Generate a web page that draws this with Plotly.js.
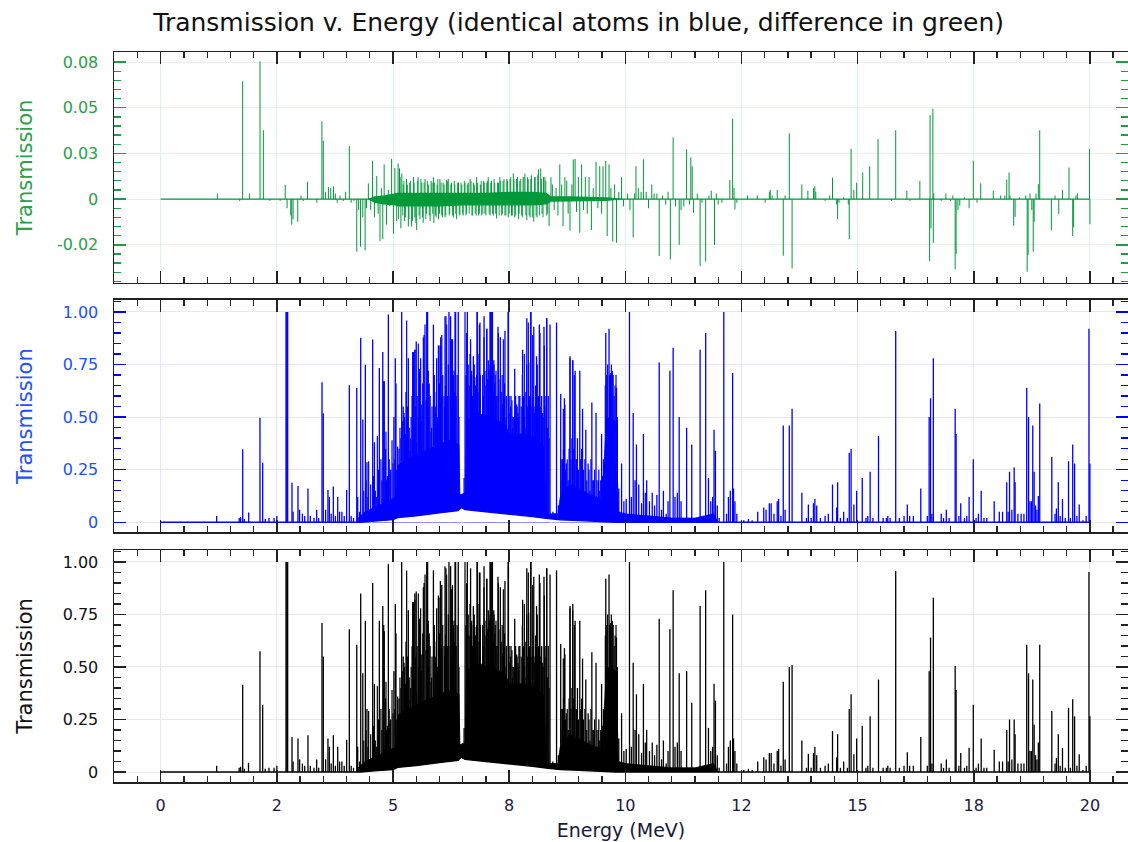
<!DOCTYPE html>
<html><head><meta charset="utf-8">
<script src="https://cdn.plot.ly/plotly-3.0.1.min.js"></script>
<style>html,body{margin:0;padding:0;background:#fff}#chart{width:1128px;height:842px}</style>
</head><body><div id="chart"></div><script>
// ---- tick definitions ----
const xTickVals = [0, 2.5, 5, 7.5, 10, 12.5, 15, 17.5, 20];
const xTickText = ['0', '2', '5', '8', '10', '12', '15', '18', '20'];
const diffTickVals = [-0.025, 0, 0.025, 0.05, 0.075];
const diffTickText = ['-0.02', '0', '0.03', '0.05', '0.08'];
const transTickVals = [0, 0.25, 0.5, 0.75, 1];
const transTickText = ['0', '0.25', '0.50', '0.75', '1.00'];

// ---- identical atoms (blue): [energy MeV, transmission] ----
const bluePeaks = [
[1.205,0.03],[1.69,0.02],[1.72,0.025],[1.765,0.347],[1.80,0.015],[1.894,0.046],[2.137,0.497],[2.195,0.283],
[2.25,0.015],[2.33,0.02],[2.44,0.02],[2.50,0.03],[2.697,1.0],[2.715,1.0],[2.733,1.0],[2.826,0.188],[2.85,0.05],
[2.955,0.172],[2.99,0.06],[3.05,0.04],[3.10,0.03],[3.17,0.161],[3.22,0.03],[3.30,0.02],[3.357,0.06],[3.40,0.02],
[3.472,0.666],[3.50,0.518],[3.55,0.06],[3.60,0.153],[3.63,0.12],[3.67,0.04],[3.716,0.17],[3.76,0.03],[3.81,0.12],
[3.85,0.05],[3.90,0.05],[3.95,0.03],[4.003,0.153],[4.06,0.652],[4.10,0.03],[4.15,0.02],[4.22,0.639],[4.24,0.12],
[4.28,0.05],[4.305,0.877],[4.35,0.489],[4.405,0.749],[4.44,0.285],[4.50,0.06],[4.563,0.869],[4.60,0.38],[4.65,0.12],
[4.706,0.734],[4.78,0.81],[4.80,0.67],[4.82,0.11],[4.86,0.2],[4.90,0.988],[4.95,0.25],[5.02,0.5],[5.05,0.78],
[5.13,0.35],[5.187,1.0],[5.22,0.55],[5.28,0.62],[5.33,0.78],[5.37,0.34],[5.44,0.81],[5.47,0.82],[5.50,0.86],
[5.55,0.5],[5.57,0.73],[5.62,0.56],[5.67,0.89],[5.745,1.0],[5.78,0.66],[5.82,0.43],[5.87,0.94],[5.94,0.78],
[5.99,0.84],[6.02,0.84],[6.05,0.89],[6.10,0.6],[6.14,0.98],[6.205,1.0],[6.24,0.98],[6.28,0.87],[6.335,1.0],
[6.405,1.0],[6.45,0.13],[6.53,0.21],[6.60,1.0],[6.67,0.87],[6.73,0.79],[6.76,0.69],[6.81,1.0],[6.86,0.94],
[6.90,0.4],[6.96,0.98],[7.02,0.92],[7.07,0.72],[7.10,1.0],[7.14,1.0],[7.17,0.77],[7.22,0.6],[7.26,0.93],
[7.31,0.88],[7.36,0.56],[7.41,0.91],[7.48,1.0],[7.54,0.6],[7.58,0.5],[7.62,0.73],[7.67,0.55],[7.73,0.6],
[7.79,0.82],[7.84,0.45],[7.88,0.97],[7.92,0.76],[7.97,1.0],[8.03,0.93],[8.09,0.79],[8.15,0.94],[8.20,0.6],
[8.25,0.93],[8.31,0.97],[8.38,0.94],[8.44,0.05],[8.47,0.04],[8.52,0.95],[8.56,0.08],[8.61,0.61],[8.65,0.3],
[8.69,0.59],[8.73,0.28],[8.77,0.2],[8.81,0.79],[8.87,0.77],[8.92,0.72],[8.97,0.4],[9.02,0.72],[9.08,0.54],
[9.15,0.44],[9.20,0.28],[9.24,0.15],[9.28,0.57],[9.32,0.2],[9.37,0.52],[9.42,0.2],[9.45,0.15],[9.49,0.42],
[9.53,0.3],[9.58,0.9],[9.65,0.92],[9.68,0.71],[9.72,0.72],[9.76,0.6],[9.81,0.64],[9.86,0.16],[9.92,0.28],
[9.97,0.1],[10.02,0.11],[10.09,1.0],[10.13,0.12],[10.17,0.52],[10.21,0.2],[10.24,0.37],[10.29,0.18],[10.35,0.09],
[10.39,0.42],[10.43,0.14],[10.46,0.2],[10.52,0.1],[10.58,0.14],[10.63,0.08],[10.68,0.13],[10.73,0.76],[10.78,0.06],
[10.82,0.15],[10.88,0.04],[10.92,0.1],[10.96,0.72],[11.03,0.83],[11.07,0.12],[11.12,0.14],[11.16,0.5],[11.20,0.1],
[11.25,0.01],[11.32,0.45],[11.38,0.02],[11.43,0.37],[11.50,0.01],[11.61,0.82],[11.67,0.02],[11.73,0.9],[11.79,0.21],
[11.84,0.1],[11.88,0.12],[11.91,0.44],[11.94,0.34],[11.98,0.08],[12.02,0.02],[12.12,1.0],[12.18,0.04],[12.22,0.12],
[12.26,0.15],[12.31,0.71],[12.33,0.16],[12.36,0.1],[12.40,0.04],[12.55,0.01],[12.65,0.015],[12.73,0.01],[12.85,0.05],
[12.98,0.07],[13.03,0.06],[13.10,0.09],[13.14,0.09],[13.20,0.04],[13.27,0.1],[13.30,0.11],[13.35,0.03],[13.40,0.46],
[13.44,0.06],[13.53,0.46],[13.59,0.54],[13.80,0.14],[13.90,0.02],[13.94,0.085],[14.00,0.02],[14.05,0.09],[14.08,0.11],
[14.12,0.08],[14.20,0.02],[14.30,0.03],[14.37,0.04],[14.46,0.18],[14.55,0.07],[14.57,0.19],[14.63,0.02],[14.70,0.05],
[14.78,0.02],[14.82,0.33],[14.86,0.35],[14.92,0.085],[14.98,0.15],[15.10,0.21],[15.18,0.02],[15.22,0.03],[15.27,0.24],
[15.33,0.02],[15.45,0.41],[15.55,0.02],[15.62,0.02],[15.65,0.03],[15.70,0.02],[15.82,0.91],[15.90,0.02],[16.00,0.03],
[16.07,0.085],[16.12,0.03],[16.20,0.03],[16.36,0.16],[16.50,0.03],[16.54,0.50],[16.57,0.59],[16.60,0.04],[16.63,0.78],
[16.80,0.04],[16.85,0.02],[16.91,0.06],[16.97,0.02],[17.10,0.54],[17.12,0.42],[17.18,0.03],[17.22,0.09],[17.30,0.02],
[17.35,0.03],[17.40,0.12],[17.49,0.30],[17.55,0.02],[17.60,0.04],[17.66,0.15],[17.72,0.02],[17.78,0.02],[17.94,0.1],
[18.05,0.05],[18.12,0.05],[18.21,0.19],[18.24,0.05],[18.27,0.24],[18.32,0.06],[18.37,0.26],[18.39,0.19],[18.45,0.04],
[18.52,0.04],[18.58,0.04],[18.64,0.64],[18.68,0.50],[18.71,0.1],[18.74,0.1],[18.77,0.46],[18.80,0.24],[18.83,0.08],
[18.86,0.06],[18.89,0.125],[18.92,0.565],[19.18,0.31],[19.25,0.04],[19.28,0.066],[19.32,0.19],[19.36,0.03],[19.41,0.11],
[19.47,0.02],[19.54,0.29],[19.58,0.02],[19.63,0.37],[19.67,0.28],[19.72,0.03],[19.77,0.085],[19.85,0.01],[19.92,0.03],
[19.98,0.92],[20.0,0.28]
];

// ---- total (black): [energy MeV, transmission] ----
const blackPeaks = [
[1.205,0.03],[1.69,0.02],[1.72,0.025],[1.765,0.416],[1.80,0.015],[1.89,0.044],[2.137,0.575],[2.195,0.32],
[2.25,0.015],[2.33,0.02],[2.44,0.02],[2.50,0.03],[2.697,1.0],[2.715,1.0],[2.733,1.0],[2.826,0.167],[2.85,0.05],
[2.955,0.16],[2.99,0.06],[3.05,0.04],[3.10,0.03],[3.17,0.175],[3.22,0.03],[3.30,0.02],[3.357,0.06],[3.40,0.02],
[3.472,0.71],[3.50,0.55],[3.55,0.06],[3.60,0.16],[3.63,0.12],[3.67,0.04],[3.716,0.175],[3.76,0.03],[3.81,0.12],
[3.85,0.05],[3.90,0.05],[3.95,0.03],[4.003,0.154],[4.06,0.68],[4.10,0.03],[4.15,0.02],[4.22,0.606],[4.24,0.12],
[4.28,0.05],[4.305,0.85],[4.35,0.47],[4.405,0.72],[4.44,0.30],[4.50,0.06],[4.563,0.90],[4.60,0.42],[4.65,0.12],
[4.706,0.72],[4.78,0.79],[4.80,0.70],[4.82,0.11],[4.86,0.2],[4.90,0.99],[4.95,0.25],[5.02,0.48],[5.05,0.80],
[5.13,0.35],[5.187,1.0],[5.22,0.55],[5.28,0.62],[5.33,0.77],[5.37,0.34],[5.44,0.81],[5.47,0.85],[5.50,0.86],
[5.55,0.5],[5.57,0.73],[5.62,0.56],[5.67,0.90],[5.745,1.0],[5.78,0.66],[5.82,0.43],[5.87,0.96],[5.94,0.78],
[5.99,0.83],[6.02,0.91],[6.05,0.89],[6.10,0.6],[6.14,0.97],[6.205,1.0],[6.24,0.98],[6.28,0.89],[6.335,1.0],
[6.405,1.0],[6.45,0.13],[6.53,0.21],[6.60,1.0],[6.67,0.97],[6.73,0.79],[6.76,0.69],[6.81,1.0],[6.86,0.95],
[6.90,0.4],[6.96,0.98],[7.02,0.92],[7.07,0.72],[7.10,1.0],[7.14,1.0],[7.17,0.77],[7.22,0.6],[7.26,0.93],
[7.31,0.88],[7.36,0.56],[7.41,0.91],[7.48,1.0],[7.54,0.6],[7.58,0.5],[7.62,0.73],[7.67,0.55],[7.73,0.6],
[7.79,0.82],[7.84,0.45],[7.88,0.97],[7.92,0.76],[7.97,1.0],[8.03,0.93],[8.09,0.79],[8.15,0.94],[8.20,0.6],
[8.25,0.93],[8.31,0.97],[8.38,0.94],[8.44,0.05],[8.47,0.04],[8.52,0.96],[8.56,0.08],[8.61,0.61],[8.65,0.3],
[8.69,0.59],[8.73,0.28],[8.77,0.2],[8.81,0.79],[8.87,0.80],[8.92,0.72],[8.97,0.4],[9.02,0.72],[9.08,0.54],
[9.15,0.44],[9.20,0.28],[9.24,0.15],[9.28,0.57],[9.32,0.2],[9.37,0.52],[9.42,0.2],[9.45,0.15],[9.49,0.42],
[9.53,0.3],[9.58,0.92],[9.65,0.94],[9.68,0.71],[9.72,0.72],[9.76,0.6],[9.81,0.64],[9.86,0.16],[9.92,0.28],
[9.97,0.1],[10.02,0.11],[10.09,1.0],[10.13,0.12],[10.17,0.52],[10.21,0.2],[10.24,0.37],[10.29,0.18],[10.35,0.09],
[10.39,0.42],[10.43,0.14],[10.46,0.2],[10.52,0.1],[10.58,0.14],[10.63,0.08],[10.68,0.13],[10.73,0.73],[10.78,0.06],
[10.82,0.15],[10.88,0.04],[10.92,0.1],[10.96,0.68],[11.03,0.865],[11.07,0.12],[11.12,0.14],[11.16,0.47],[11.20,0.1],
[11.25,0.01],[11.32,0.48],[11.38,0.02],[11.43,0.33],[11.50,0.01],[11.61,0.79],[11.67,0.02],[11.73,0.865],[11.79,0.21],
[11.84,0.1],[11.88,0.12],[11.91,0.42],[11.94,0.34],[11.98,0.08],[12.02,0.02],[12.12,1.0],[12.18,0.04],[12.22,0.12],
[12.26,0.15],[12.31,0.75],[12.33,0.16],[12.36,0.1],[12.40,0.04],[12.55,0.01],[12.65,0.015],[12.73,0.01],[12.85,0.05],
[12.98,0.07],[13.03,0.06],[13.10,0.09],[13.14,0.09],[13.20,0.04],[13.27,0.1],[13.30,0.11],[13.35,0.03],[13.40,0.43],
[13.44,0.06],[13.53,0.50],[13.59,0.51],[13.80,0.15],[13.90,0.02],[13.94,0.087],[14.00,0.02],[14.05,0.09],[14.08,0.12],
[14.12,0.08],[14.20,0.02],[14.30,0.03],[14.37,0.04],[14.46,0.195],[14.55,0.07],[14.57,0.18],[14.63,0.02],[14.70,0.05],
[14.78,0.02],[14.82,0.30],[14.86,0.37],[14.92,0.085],[14.98,0.16],[15.10,0.22],[15.18,0.02],[15.22,0.03],[15.27,0.265],
[15.33,0.02],[15.45,0.44],[15.55,0.02],[15.62,0.02],[15.65,0.03],[15.70,0.02],[15.82,0.957],[15.90,0.02],[16.00,0.03],
[16.07,0.094],[16.12,0.03],[16.20,0.03],[16.36,0.167],[16.50,0.03],[16.54,0.48],[16.57,0.64],[16.60,0.04],[16.63,0.83],
[16.80,0.04],[16.85,0.02],[16.91,0.06],[16.97,0.02],[17.10,0.505],[17.12,0.39],[17.18,0.03],[17.22,0.09],[17.30,0.02],
[17.35,0.03],[17.40,0.115],[17.49,0.32],[17.55,0.02],[17.60,0.04],[17.66,0.16],[17.72,0.02],[17.78,0.02],[17.94,0.106],
[18.05,0.05],[18.12,0.05],[18.21,0.2],[18.24,0.05],[18.27,0.25],[18.32,0.06],[18.37,0.25],[18.39,0.18],[18.45,0.04],
[18.52,0.04],[18.58,0.04],[18.64,0.606],[18.68,0.47],[18.71,0.1],[18.74,0.1],[18.77,0.44],[18.80,0.225],[18.83,0.08],
[18.86,0.06],[18.89,0.14],[18.92,0.606],[19.18,0.29],[19.25,0.04],[19.28,0.066],[19.32,0.18],[19.36,0.03],[19.41,0.114],
[19.47,0.02],[19.54,0.306],[19.58,0.02],[19.63,0.346],[19.67,0.265],[19.72,0.03],[19.77,0.085],[19.85,0.01],[19.92,0.03],
[19.98,0.952],[20.0,0.265]
];

// ---- unresolved forest lines of the dense region (same in blue and black panels) ----
const forestPeaks = [
[4.37,0.15],[4.42,0.2],[4.46,0.12],[4.476,0.29],[4.52,0.18],[4.58,0.22],[4.62,0.15],[4.663,0.41],[4.69,0.25],[4.74,0.3],
[4.76,0.2],[4.813,0.67],[4.84,0.35],[4.849,0.43],[4.88,0.22],[4.92,0.3],[4.935,0.23],[4.979,0.39],[5.0,0.28],[5.04,0.3],
[5.065,0.66],[5.08,0.25],[5.10,0.36],[5.136,0.25],[5.15,0.45],[5.17,0.4],[5.2,0.48],[5.237,0.52],[5.25,0.5],[5.27,0.42],
[5.294,0.96],[5.31,0.55],[5.35,0.45],[5.38,0.40],[5.39,0.5],[5.41,0.6],[5.423,0.81],[5.45,0.45],[5.473,0.82],[5.49,0.55],
[5.509,0.38],[5.52,0.6],[5.545,0.85],[5.56,0.5],[5.595,0.78],[5.61,0.48],[5.64,0.66],[5.653,0.88],[5.689,0.94],[5.71,0.58],
[5.725,1.0],[5.74,0.65],[5.76,0.72],[5.77,0.5],[5.8,0.6],[5.832,0.45],[5.84,0.55],[5.89,0.7],[5.91,0.55],[5.926,0.52],
[5.93,0.62],[5.96,0.5],[5.976,0.84],[6.0,0.66],[6.026,0.88],[6.04,0.6],[6.07,0.7],[6.083,0.33],[6.11,0.55],[6.119,0.98],
[6.13,0.65],[6.155,0.94],[6.17,0.6],[6.19,0.75],[6.23,0.6],[6.25,0.55],[6.263,0.87],[6.3,0.7],[6.313,0.72],[6.32,0.62],
[6.349,1.0],[6.36,0.6],[6.38,0.7],[6.42,0.5],[6.55,1.0],[6.57,0.7],[6.585,0.9],[6.62,0.75],[6.64,0.65],[6.657,0.8],
[6.69,0.7],[6.693,0.72],[6.71,0.6],[6.729,0.7],[6.75,0.75],[6.765,0.65],[6.78,0.65],[6.8,0.7],[6.815,1.0],[6.83,0.8],
[6.85,0.62],[6.872,0.95],[6.88,0.7],[6.908,0.4],[6.93,0.7],[6.94,0.6],[6.959,0.88],[6.98,0.72],[7.0,0.65],[7.016,0.92],
[7.04,0.68],[7.052,0.77],[7.06,0.6],[7.088,1.0],[7.09,0.75],[7.12,0.7],[7.124,1.0],[7.16,0.62],[7.174,0.75],[7.19,0.66],
[7.2,0.7],[7.217,0.72],[7.24,0.6],[7.267,0.9],[7.28,0.68],[7.303,0.25],[7.33,0.62],[7.35,0.7],[7.375,0.87],[7.38,0.6],
[7.4,0.66],[7.432,0.5],[7.44,0.6],[7.482,1.0],[7.5,0.6],[7.518,0.52],[7.53,0.55],[7.56,0.58],[7.576,0.45],[7.6,0.5],
[7.626,0.48],[7.64,0.6],[7.662,0.56],[7.69,0.52],[7.698,0.5],[7.71,0.6],[7.748,0.25],[7.76,0.55],[7.784,0.7],[7.81,0.6],
[7.827,0.8],[7.83,0.5],[7.86,0.62],[7.877,0.75],[7.9,0.55],[7.913,0.95],[7.94,0.6],[7.963,1.0],[7.99,0.55],[8.006,0.89],
[8.01,0.6],[8.04,0.52],[8.056,0.55],[8.07,0.65],[8.106,0.75],[8.11,0.55],[8.13,0.6],[8.164,0.9],[8.18,0.55],[8.221,0.52],
[8.23,0.5],[8.257,0.84],[8.27,0.55],[8.29,0.6],[8.307,0.97],[8.33,0.45],[8.343,0.6],[8.36,0.4],
[8.62,0.3],[8.64,0.2],[8.666,0.54],[8.67,0.35],[8.70,0.56],[8.71,0.25],[8.75,0.3],[8.79,0.35],[8.81,0.78],[8.83,0.3],
[8.85,0.4],[8.867,0.77],[8.89,0.35],[8.903,0.7],[8.94,0.3],[8.953,0.3],[8.99,0.25],[9.04,0.3],[9.06,0.35],[9.1,0.25],
[9.13,0.3],[9.17,0.2],[9.22,0.25],[9.26,0.3],[9.3,0.2],[9.34,0.25],[9.39,0.2],[9.43,0.25],[9.47,0.2],[9.51,0.22],
[9.57,0.65],[9.6,0.7],[9.62,0.75],[9.66,0.7],[9.7,0.75],[9.74,0.7],[9.78,0.65],[9.8,0.7],[9.83,0.5]
];

// ---- lower envelope (minimum transmission) of the dense region ----
const floorE = [0, 4.3, 4.6, 5.0, 5.1, 5.5, 6.0, 6.4, 6.47, 6.55, 7.0, 7.5, 8.0, 8.3, 8.6, 9.0, 9.5, 9.8, 20];
const floorT = [0, 0, 0.005, 0.012, 0.022, 0.03, 0.045, 0.055, 0.07, 0.06, 0.05, 0.04, 0.027, 0.018, 0.012, 0.008, 0.003, 0, 0];
// ---- top of the solid (unresolved) part of the dense region ----
const coreE = [4.25, 4.4, 4.6, 4.8, 5.0, 5.08, 5.1, 5.3, 5.6, 5.9, 6.2, 6.42, 6.44, 6.56, 6.58, 6.8, 7.1, 7.4, 7.5, 7.8, 8.1, 8.25, 8.3, 8.55, 8.6, 8.8, 9.0, 9.25, 9.5, 9.56, 9.6, 9.8, 9.85, 10.0, 10.5, 11.0, 11.5, 11.9, 12.0];
const coreTop = [0.02, 0.05, 0.07, 0.09, 0.11, 0.12, 0.27, 0.3, 0.33, 0.36, 0.39, 0.37, 0.13, 0.14, 0.48, 0.52, 0.5, 0.47, 0.42, 0.42, 0.4, 0.36, 0.04, 0.04, 0.12, 0.18, 0.16, 0.13, 0.11, 0.35, 0.5, 0.48, 0.05, 0.04, 0.03, 0.02, 0.02, 0.04, 0];

// ---- difference (green): [energy MeV, transmission difference] ----
const greenPeaks = [
[1.22,0.003],[1.70,-0.001],[1.764,0.0645],[1.91,0.003],[2.138,0.0754],[2.21,0.0377],[2.35,-0.001],[2.57,-0.001],
[2.68,0.0077],[2.72,-0.005],[2.80,-0.009],[2.82,-0.014],[2.85,-0.011],[2.95,-0.0124],[3.02,0.002],[3.07,-0.001],
[3.16,0.0095],[3.36,-0.002],[3.47,0.0426],[3.50,0.032],[3.55,0.004],[3.61,0.0067],[3.66,0.006],[3.72,0.007],
[3.76,0.003],[3.80,-0.002],[3.86,0.002],[3.93,-0.001],[3.98,0.004],[4.06,0.029],[4.10,-0.002],[4.16,-0.001],
[4.22,-0.0288],[4.26,-0.006],[4.30,-0.026],[4.35,-0.01],[4.40,-0.028],[4.43,-0.005],[4.47,0.0086],[4.52,-0.006],
[4.56,0.021],[4.60,-0.01],[4.65,0.0126],[4.68,-0.008],[4.72,-0.023],[4.75,0.006],[4.78,-0.022],[4.81,0.019],
[4.86,-0.014],[4.90,0.005],[4.93,-0.004],[4.97,0.022],[5.01,-0.019],[5.04,0.017],[5.08,-0.012],[5.11,0.0195],
[5.14,0.0168],[5.17,-0.016],[5.19,0.014],[5.22,0.008],[5.25,-0.012],[5.29,0.011],[5.33,-0.015],[5.36,0.009],
[5.40,-0.015],[5.44,0.012],[5.47,-0.01],[5.51,-0.017],[5.54,0.012],[5.58,-0.011],[5.62,0.009],[5.65,-0.013],
[5.69,0.011],[5.72,-0.008],[5.76,0.008],[5.80,-0.012],[5.84,0.009],[5.87,0.012],[5.88,-0.013],[5.91,-0.009],
[5.95,0.008],[5.98,-0.011],[6.01,0.011],[6.05,-0.009],[6.08,0.009],[6.12,-0.01],[6.15,0.0104],[6.19,0.011],
[6.22,-0.008],[6.26,0.009],[6.30,-0.01],[6.33,0.008],[6.37,-0.011],[6.41,0.009],[6.44,-0.009],[6.48,0.008],
[6.51,-0.009],[6.55,0.009],[6.58,-0.008],[6.62,0.009],[6.66,0.011],[6.70,-0.009],[6.73,0.009],[6.77,-0.008],
[6.80,0.012],[6.84,-0.009],[6.88,0.008],[6.91,-0.009],[6.95,0.01],[6.98,-0.008],[7.02,0.009],[7.05,0.012],
[7.09,-0.009],[7.12,0.01],[7.16,-0.009],[7.19,0.009],[7.23,-0.0106],[7.27,0.009],[7.30,0.012],[7.34,-0.009],
[7.37,0.01],[7.41,-0.009],[7.45,0.011],[7.48,-0.01],[7.52,0.011],[7.55,-0.009],[7.59,0.014],[7.62,-0.01],
[7.66,0.011],[7.70,-0.011],[7.73,0.01],[7.77,-0.009],[7.80,0.012],[7.84,0.014],[7.88,-0.0115],[7.91,0.011],
[7.95,-0.01],[7.98,0.013],[8.03,-0.0124],[8.06,0.012],[8.10,-0.01],[8.13,0.0162],[8.18,0.0168],[8.21,-0.008],
[8.24,0.012],[8.27,0.012],[8.31,-0.009],[8.36,-0.0148],[8.40,0.012],[8.43,0.008],[8.47,-0.006],[8.51,0.006],
[8.55,-0.009],[8.59,0.019],[8.63,0.008],[8.66,-0.0148],[8.70,0.012],[8.74,0.01],[8.77,-0.008],[8.81,-0.0173],
[8.85,0.008],[8.88,0.0217],[8.92,0.022],[8.95,-0.007],[8.99,0.012],[9.02,-0.0184],[9.06,0.019],[9.10,-0.006],
[9.14,0.012],[9.18,-0.008],[9.22,0.012],[9.27,-0.017],[9.31,0.006],[9.37,0.0204],[9.41,-0.005],[9.45,0.018],
[9.49,-0.008],[9.52,0.018],[9.58,0.0209],[9.61,-0.0202],[9.65,0.019],[9.69,0.006],[9.73,-0.0233],[9.77,0.008],
[9.81,-0.0239],[9.86,0.004],[9.92,0.012],[9.96,-0.004],[10.05,0.003],[10.10,-0.006],[10.17,-0.021],[10.20,0.003],
[10.23,0.018],[10.28,0.006],[10.34,0.004],[10.39,0.0217],[10.45,0.004],[10.50,-0.005],[10.57,0.008],[10.62,0.003],
[10.68,0.003],[10.73,-0.0311],[10.80,0.002],[10.87,-0.003],[10.92,0.004],[10.97,-0.033],[11.03,0.0337],[11.08,-0.004],
[11.16,-0.025],[11.20,-0.006],[11.26,-0.004],[11.32,0.0273],[11.38,-0.003],[11.41,0.0228],[11.44,0.018],[11.47,-0.0075],
[11.55,0.003],[11.61,-0.0366],[11.65,-0.002],[11.73,-0.0342],[11.80,0.002],[11.85,0.0046],[11.92,-0.025],[11.96,0.003],
[12.00,-0.003],[12.08,-0.002],[12.25,0.0104],[12.31,0.044],[12.34,0.006],[12.36,-0.0056],[12.40,-0.002],[12.63,0.002],
[12.84,0.002],[13.01,-0.002],[13.10,0.004],[13.12,0.005],[13.16,0.002],[13.27,0.005],[13.40,-0.031],[13.44,0.002],
[13.53,0.036],[13.59,-0.038],[13.80,0.008],[13.93,0.0046],[14.05,0.006],[14.08,0.007],[14.10,0.004],[14.30,-0.001],
[14.40,0.002],[14.46,0.0117],[14.55,-0.003],[14.57,-0.011],[14.60,-0.002],[14.70,0.001],[14.80,-0.003],[14.82,-0.0219],
[14.86,0.0275],[14.92,0.005],[14.98,0.009],[15.11,0.0146],[15.26,0.018],[15.44,0.0328],[15.73,-0.001],[15.82,0.0377],
[16.06,0.0046],[16.13,-0.001],[16.34,0.01],[16.55,-0.034],[16.56,0.046],[16.58,-0.016],[16.62,0.0495],[16.63,-0.024],
[16.64,0.003],[16.80,-0.001],[16.90,0.003],[17.00,-0.001],[17.05,0.002],[17.10,-0.0384],[17.12,-0.03],[17.16,-0.006],
[17.20,-0.0036],[17.30,0.001],[17.40,-0.005],[17.49,0.021],[17.57,-0.002],[17.65,0.0086],[17.92,0.0046],[18.08,0.002],
[18.17,0.002],[18.21,0.0107],[18.26,0.0146],[18.28,0.002],[18.36,-0.0146],[18.39,-0.0097],[18.48,0.001],[18.62,0.002],
[18.65,-0.0397],[18.67,-0.0306],[18.71,0.003],[18.75,-0.006],[18.78,-0.0288],[18.80,-0.0124],[18.84,0.003],[18.89,0.0082],
[18.92,0.0377],[19.17,-0.017],[19.25,0.002],[19.33,-0.0082],[19.41,0.005],[19.55,0.0173],[19.63,-0.0202],[19.65,-0.0155],
[19.70,0.002],[19.73,0.003],[19.99,0.0275],[20.0,-0.0138]
];
// unresolved hair of the difference band
const greenForest = [
[5.12,-0.011],[5.155,0.012],[5.21,-0.009],[5.235,0.01],[5.27,-0.01],[5.31,0.008],[5.345,-0.011],[5.38,0.01],[5.42,-0.012],
[5.455,0.009],[5.49,-0.013],[5.525,0.01],[5.56,-0.009],[5.60,0.011],[5.635,-0.01],[5.67,0.009],[5.705,-0.011],[5.74,0.01],
[5.78,-0.009],[5.82,0.01],[5.855,-0.008],[5.895,0.009],[5.93,-0.01],[5.965,0.011],[6.0,-0.008],[6.035,0.009],[6.065,-0.01],
[6.1,0.008],[6.135,-0.009],[6.17,0.01],[6.21,-0.009],[6.245,0.008],[6.28,-0.009],[6.32,0.01],[6.35,-0.008],[6.39,0.009],
[6.425,-0.008],[6.465,0.009],[6.5,-0.008],[6.535,0.01],[6.57,-0.009],[6.6,0.008],[6.64,-0.008],[6.68,0.01],[6.715,-0.009],
[6.75,0.008],[6.79,-0.009],[6.82,0.009],[6.86,-0.008],[6.9,0.01],[6.935,-0.008],[6.965,0.009],[7.0,-0.009],[7.035,0.01],
[7.07,-0.008],[7.105,0.009],[7.14,-0.008],[7.175,0.011],[7.21,-0.008],[7.25,0.009],[7.285,-0.009],[7.32,0.01],[7.355,-0.008],
[7.39,0.011],[7.43,-0.009],[7.465,0.01],[7.5,-0.008],[7.535,0.012],[7.57,-0.009],[7.605,0.011],[7.64,-0.009],[7.68,0.012],
[7.715,-0.008],[7.75,0.011],[7.785,-0.01],[7.82,0.012],[7.86,-0.009],[7.895,0.012],[7.93,-0.009],[7.965,0.011],[8.0,-0.01],
[8.045,0.012],[8.08,-0.009],[8.115,0.013],[8.15,-0.009],[8.195,0.011],[8.23,-0.01],[8.29,0.01],[8.33,-0.008]
];
// solid core of the difference band
const greenCoreE  = [4.45, 4.6, 4.8, 5.05, 5.1, 5.5, 6.0, 6.5, 7.0, 7.5, 8.0, 8.3, 8.4, 8.8, 9.2, 9.6, 10.0];
const greenCoreHi = [0, 0.0015, 0.002, 0.003, 0.0035, 0.0035, 0.0035, 0.0035, 0.0035, 0.004, 0.004, 0.0035, 0.0015, 0.0015, 0.0012, 0.001, 0];
const greenCoreLo = [0, -0.002, -0.003, -0.0035, -0.004, -0.004, -0.004, -0.0035, -0.0035, -0.0035, -0.0035, -0.003, -0.0015, -0.0015, -0.0012, -0.001, 0];
const energySpan = [0, 20];
const zeroSpan = [0, 0];

// ---- colours ----
const GREEN = '#00993a', BLUE = '#0000ff', BLACK = '#000000';

function spikeXY(peaks) {
  const x = [], y = [];
  peaks.forEach(p => { x.push(p[0], p[0], null); y.push(0, p[1], null); });
  return {x, y};
}

function transPanel(peaks, color, xa, ya) {
  const s = spikeXY(peaks), f = spikeXY(forestPeaks);
  return [
    {type:'scatter', mode:'lines', x:coreE, y:coreTop, xaxis:xa, yaxis:ya, fill:'tozeroy', fillcolor:color, line:{color:color, width:0.8}, hoverinfo:'skip'},
    {type:'scatter', mode:'lines', x:f.x, y:f.y, xaxis:xa, yaxis:ya, line:{color:color, width:1.2}, connectgaps:false, hoverinfo:'skip'},
    {type:'scatter', mode:'lines', x:s.x, y:s.y, xaxis:xa, yaxis:ya, line:{color:color, width:1.3}, connectgaps:false, hoverinfo:'skip'},
    {type:'scatter', mode:'lines', x:floorE, y:floorT, xaxis:xa, yaxis:ya, fill:'tozeroy', fillcolor:'#ffffff', line:{color:'rgba(0,0,0,0)', width:0}, hoverinfo:'skip'},
    {type:'scatter', mode:'lines', x:floorE, y:floorT, xaxis:xa, yaxis:ya, line:{color:color, width:1.3}, hoverinfo:'skip'}
  ];
}

const gs = spikeXY(greenPeaks), gf = spikeXY(greenForest);
const greenPolyX = greenCoreE.concat(greenCoreE.slice().reverse());
const greenPolyY = greenCoreHi.concat(greenCoreLo.slice().reverse());
const greenTraces = [
  {type:'scatter', mode:'lines', x:energySpan, y:zeroSpan, xaxis:'x3', yaxis:'y3', line:{color:GREEN, width:1.3}, hoverinfo:'skip'},
  {type:'scatter', mode:'lines', x:gf.x, y:gf.y, xaxis:'x3', yaxis:'y3', line:{color:GREEN, width:0.9}, connectgaps:false, hoverinfo:'skip'},
  {type:'scatter', mode:'lines', x:gs.x, y:gs.y, xaxis:'x3', yaxis:'y3', line:{color:GREEN, width:1.0}, connectgaps:false, hoverinfo:'skip'},
  {type:'scatter', mode:'lines', x:greenPolyX, y:greenPolyY, xaxis:'x3', yaxis:'y3', fill:'toself', fillcolor:GREEN, line:{color:GREEN, width:0}, hoverinfo:'skip'}
];

const data = [].concat(transPanel(blackPeaks, BLACK, 'x', 'y'), transPanel(bluePeaks, BLUE, 'x2', 'y2'), greenTraces);

const FONT = 'DejaVu Sans, Verdana, sans-serif';
const frame = {showline:true, linecolor:'#222', linewidth:1.5, mirror:'ticks', ticks:'inside', ticklen:12, tickwidth:1.5, zeroline:false, showgrid:true, fixedrange:true};
function xAxis(anchor, grid, labels) {
  return Object.assign({}, frame, {
    anchor:anchor, domain:[0,1], range:[-1.005, 20.82], tickmode:'array', tickvals:xTickVals, ticktext:xTickText,
    tickcolor:'#222', gridcolor:grid, gridwidth:1, showticklabels:labels,
    tickfont:{family:FONT, size:16, color:'#1a1a3a'}, ticklabelstandoff:8,
    minor:{ticks:'inside', ticklen:6, tickwidth:1.3, tickcolor:'#222', tick0:0, dtick:0.5, showgrid:false}
  });
}
function yAxis(anchor, domain, range, vals, text, minorD, col, tcol, grid, standoff) {
  return Object.assign({}, frame, {
    anchor:anchor, domain:domain, range:range, tickmode:'array', tickvals:vals, ticktext:text,
    tickcolor:tcol, gridcolor:grid, gridwidth:1, ticklabelstandoff:11,
    tickfont:{family:FONT, size:16, color:col},
    minor:{ticks:'inside', ticklen:7, tickwidth:1.3, tickcolor:tcol, tick0:0, dtick:minorD, showgrid:false},
    title:{text:'Transmission', font:{family:FONT, size:21, color:col}, standoff:standoff}
  });
}

const layout = {
  width:1128, height:842, paper_bgcolor:'#ffffff', plot_bgcolor:'#ffffff', showlegend:false,
  margin:{l:114, r:0, t:52, b:60, autoexpand:false},
  font:{family:FONT, color:'#111'},
  title:{text:'Transmission v. Energy (identical atoms in blue, difference in green)', font:{family:FONT, size:25, color:'#111'},
         x:0.513, xanchor:'center', xref:'container', y:0.973, yanchor:'middle', yref:'container'},
  xaxis: Object.assign(xAxis('y', '#e8e8e8', true), {title:{text:'Energy (MeV)', font:{family:FONT, size:19, color:'#1a1a3a'}, standoff:10}}),
  xaxis2: Object.assign(xAxis('y2', '#e6e6fa', false), {matches:'x'}),
  xaxis3: Object.assign(xAxis('y3', '#e2f2e7', false), {matches:'x'}),
  yaxis: yAxis('x', [0, 0.3178], [-0.0476, 1.057], transTickVals, transTickText, 0.05, '#111', '#222', '#e8e8e8', 24),
  yaxis2: yAxis('x2', [0.3421, 0.6603], [-0.0476, 1.057], transTickVals, transTickText, 0.05, '#2050ff', BLUE, '#e6e6fa', 24),
  yaxis3: yAxis('x3', [0.6836, 1], [-0.0459, 0.0805], diffTickVals, diffTickText, 0.005, '#2aa048', '#1f9a45', '#e2f2e7', 18)
};

Plotly.newPlot('chart', data, layout, {staticPlot:true, displayModeBar:false});
</script></body></html>
